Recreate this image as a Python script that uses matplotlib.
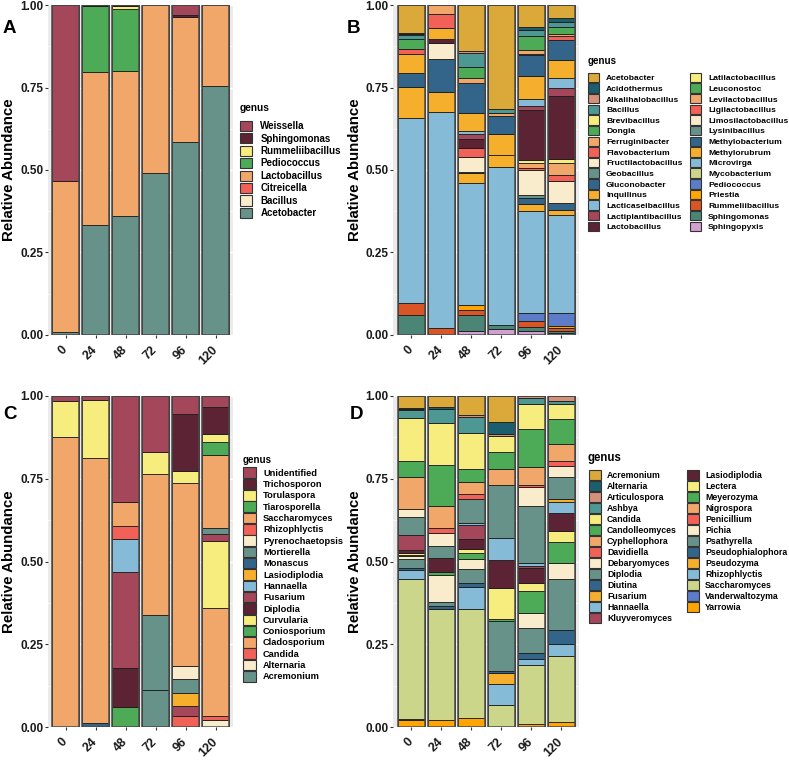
import numpy as np
import matplotlib
matplotlib.use("Agg")
import matplotlib.pyplot as plt
import matplotlib.transforms as mtransforms
from matplotlib.patches import Patch

# output size in pixels (dpi 100)
W, H = 789, 762
FONT = "Liberation Sans"
plt.rcParams["font.family"] = [FONT, "DejaVu Sans"]

hours = ["0", "24", "48", "72", "96", "120"]

# palette used across the four panels
gold, dteal, salmon, teal = "#DBA83A", "#1B5E6E", "#D4917A", "#4D9892"
yellow, green, peach, coral = "#F6ED7E", "#4DAA57", "#F1A66A", "#F26157"
cream, gteal, blue, amber = "#F9ECCC", "#679289", "#33658A", "#F6AE2D"
lblue, rose, maroon, olive = "#86BBD8", "#A4475A", "#5B2333", "#CBD68A"
peri, orange, rust, sgreen, lilac = "#5C7BC8", "#FFA400", "#D95525", "#4B8575", "#D19FD0"

# ---- panel A : bacteria (legend order = stack order, top to bottom)
genus_a = ["Weissella", "Sphingomonas", "Rummeliibacillus", "Pediococcus",
           "Lactobacillus", "Citreicella", "Bacillus", "Acetobacter"]
colors_a = [rose, maroon, yellow, green, peach, coral, cream, gteal]
abund_a = [
    [0.533, 0, 0, 0, 0.031, 0],
    [0, 0.004, 0.004, 0, 0.004, 0],
    [0, 0, 0.007, 0, 0, 0],
    [0, 0.200, 0.189, 0, 0, 0],
    [0.457, 0.463, 0.438, 0.510, 0.380, 0.245],
    [0, 0, 0, 0, 0, 0],
    [0, 0, 0, 0, 0, 0],
    [0.010, 0.333, 0.362, 0.490, 0.585, 0.755],
]

# ---- panel B : bacteria, all genera
genus_b = ["Acetobacter", "Acidothermus", "Alkalihalobacillus", "Bacillus",
           "Brevibacillus", "Dongia", "Ferruginibacter", "Flavobacterium",
           "Fructilactobacillus", "Geobacillus", "Gluconobacter", "Inquilinus",
           "Lacticaseibacillus", "Lactiplantibacillus", "Lactobacillus",
           "Latilactobacillus", "Leuconostoc", "Levilactobacillus",
           "Ligilactobacillus", "Limosilactobacillus", "Lysinibacillus",
           "Methylobacterium", "Methylorubrum", "Microvirga", "Mycobacterium",
           "Pediococcus", "Priestia", "Rummeliibacillus", "Sphingomonas",
           "Sphingopyxis"]
colors_b = [gold, dteal, salmon, teal, yellow, green, peach, coral, cream, gteal,
            blue, amber, lblue, rose, maroon, yellow, green, peach, coral, cream,
            gteal, blue, amber, lblue, olive, peri, orange, rust, sgreen, lilac]
abund_b = [
    [0.086, 0, 0.138, 0.316, 0.066, 0.040],
    [0.003, 0, 0, 0, 0.010, 0.010],
    [0.003, 0, 0.008, 0, 0, 0],
    [0.010, 0, 0.043, 0.012, 0.018, 0.017],
    [0, 0, 0, 0, 0, 0],
    [0.032, 0, 0.033, 0, 0.042, 0.020],
    [0, 0.027, 0.015, 0.009, 0.012, 0.008],
    [0.013, 0.043, 0, 0, 0, 0.010],
    [0, 0, 0, 0, 0, 0],
    [0, 0, 0, 0, 0.004, 0],
    [0, 0, 0.091, 0.054, 0.063, 0.061],
    [0.060, 0.033, 0.053, 0.064, 0.071, 0.054],
    [0, 0, 0.010, 0, 0.020, 0.030],
    [0, 0, 0.016, 0, 0.012, 0.024],
    [0, 0.012, 0.027, 0, 0.152, 0.193],
    [0, 0, 0, 0, 0.010, 0.012],
    [0, 0, 0, 0, 0, 0],
    [0, 0, 0, 0, 0.015, 0.035],
    [0, 0, 0.028, 0, 0.005, 0.019],
    [0, 0.048, 0.043, 0, 0.076, 0.067],
    [0, 0, 0, 0, 0.010, 0],
    [0.041, 0.101, 0.005, 0, 0.018, 0.022],
    [0.095, 0.059, 0.028, 0.037, 0.019, 0.013],
    [0.559, 0.657, 0.371, 0.478, 0.311, 0.296],
    [0, 0, 0, 0, 0, 0],
    [0, 0, 0, 0, 0.023, 0.041],
    [0, 0, 0.015, 0, 0, 0.007],
    [0.037, 0.020, 0.015, 0, 0.018, 0.007],
    [0.059, 0, 0.049, 0.012, 0.013, 0.008],
    [0, 0, 0.012, 0.018, 0.012, 0.005],
]

# ---- panel C : fungi (top genera)
genus_c = ["Unidentified", "Trichosporon", "Torulaspora", "Tiarosporella",
           "Saccharomyces", "Rhizophlyctis", "Pyrenochaetopsis", "Mortierella",
           "Monascus", "Lasiodiplodia", "Hannaella", "Fusarium", "Diplodia",
           "Curvularia", "Coniosporium", "Cladosporium", "Candida", "Alternaria",
           "Acremonium"]
colors_c = [rose, maroon, yellow, green, peach, coral, cream, gteal, blue, amber,
            lblue, rose, maroon, yellow, green, peach, coral, cream, gteal]
abund_c = [
    [0.015, 0.012, 0.319, 0.170, 0.055, 0.032],
    [0, 0, 0, 0, 0.171, 0.082],
    [0.110, 0.176, 0, 0.067, 0.038, 0.025],
    [0, 0, 0, 0, 0, 0.040],
    [0.875, 0.799, 0.073, 0.425, 0.552, 0.219],
    [0, 0, 0.041, 0, 0, 0],
    [0, 0, 0, 0, 0.040, 0],
    [0, 0, 0, 0.226, 0.040, 0.018],
    [0, 0.013, 0, 0, 0, 0],
    [0, 0, 0, 0, 0.041, 0],
    [0, 0, 0.100, 0, 0, 0],
    [0, 0, 0.290, 0, 0.029, 0.022],
    [0, 0, 0.116, 0, 0, 0],
    [0, 0, 0, 0, 0, 0.201],
    [0, 0, 0.061, 0, 0, 0],
    [0, 0, 0, 0, 0, 0.326],
    [0, 0, 0, 0, 0.034, 0.012],
    [0, 0, 0, 0, 0, 0.021],
    [0, 0, 0, 0.112, 0, 0],
]

# ---- panel D : fungi, all genera
genus_d = ["Acremonium", "Alternaria", "Articulospora", "Ashbya", "Candida",
           "Candolleomyces", "Cyphellophora", "Davidiella", "Debaryomyces",
           "Diplodia", "Diutina", "Fusarium", "Hannaella", "Kluyveromyces",
           "Lasiodiplodia", "Lectera", "Meyerozyma", "Nigrospora", "Penicillium",
           "Pichia", "Psathyrella", "Pseudophialophora", "Pseudozyma",
           "Rhizophlyctis", "Saccharomyces", "Vanderwaltozyma", "Yarrowia"]
colors_d = [gold, dteal, salmon, teal, yellow, green, peach, coral, cream, gteal,
            blue, amber, lblue, rose, maroon, yellow, green, peach, coral, cream,
            gteal, blue, amber, lblue, olive, peri, orange]
abund_d = [
    [0.036, 0.034, 0.057, 0.080, 0, 0],
    [0.003, 0.005, 0, 0.034, 0, 0],
    [0.004, 0, 0.007, 0.008, 0.005, 0.015],
    [0.022, 0.044, 0.049, 0, 0.019, 0.008],
    [0.130, 0.124, 0.109, 0.048, 0.076, 0.048],
    [0.051, 0.124, 0.039, 0.051, 0.113, 0.074],
    [0.095, 0.068, 0.034, 0.049, 0.055, 0.053],
    [0, 0.015, 0.016, 0, 0.006, 0.015],
    [0.025, 0.039, 0, 0, 0.056, 0.031],
    [0.053, 0.036, 0.072, 0.159, 0.172, 0.068],
    [0, 0, 0, 0, 0, 0],
    [0, 0, 0, 0, 0, 0.008],
    [0, 0, 0.008, 0.066, 0.010, 0.034],
    [0.047, 0, 0.042, 0, 0.006, 0],
    [0.009, 0.044, 0.028, 0.085, 0.045, 0.053],
    [0.005, 0, 0.013, 0.095, 0.023, 0.034],
    [0.003, 0.009, 0.018, 0.004, 0.066, 0.063],
    [0, 0, 0, 0, 0, 0],
    [0, 0, 0, 0, 0, 0],
    [0.010, 0.079, 0.031, 0, 0.046, 0.048],
    [0.026, 0.013, 0.042, 0.152, 0.076, 0.156],
    [0.008, 0.010, 0.011, 0.006, 0.018, 0.041],
    [0, 0, 0, 0.034, 0, 0],
    [0.027, 0, 0.067, 0.063, 0.017, 0.038],
    [0.421, 0.335, 0.331, 0.067, 0.178, 0.198],
    [0.005, 0, 0, 0, 0, 0],
    [0.020, 0.021, 0.026, 0, 0.008, 0.016],
]

fig = plt.figure(figsize=(W / 100, H / 100), dpi=100)


def px_axes(left, top, width, height):
    return fig.add_axes([left / W, 1 - (top + height) / H, width / W, height / H])


def draw_panel(ax, genera, colours, values):
    vals = np.array(values, dtype=float)
    vals = vals / vals.sum(axis=0)          # relative abundance per sample
    x = np.arange(len(hours))
    bottom = np.zeros(len(hours))
    # the last genus in the legend sits at the bottom of each bar
    for col, row in reversed(list(zip(colours, vals))):
        keep = row > 0
        ax.bar(x[keep], row[keep], bottom=bottom[keep], width=0.9, color=col,
               edgecolor="#1a1a1a", linewidth=0.6, zorder=3)
        bottom += row
    # grey frame round each whole bar
    ax.bar(x, bottom, width=0.9, fill=False, edgecolor="#4a4a4a",
           linewidth=1.1, zorder=4)

    ax.set_facecolor("#EBEBEB")
    for s in ax.spines.values():
        s.set_visible(False)
    ax.set_xlim(-0.6, len(hours) - 0.4)
    ax.set_ylim(0, 1)
    ax.set_yticks([0, 0.25, 0.5, 0.75, 1.0])
    ax.set_yticks([0.125, 0.375, 0.625, 0.875], minor=True)
    ax.set_yticklabels(["0.00", "0.25", "0.50", "0.75", "1.00"],
                       fontsize=8.5, fontweight="bold", color="#1a1a1a")
    ax.set_xticks(x)
    ax.set_xticklabels(hours, fontsize=9, fontweight="bold", color="#1a1a1a",
                       rotation=45, ha="right", va="center", rotation_mode="anchor")
    shift = mtransforms.ScaledTranslation(2.5 / 72, 0, fig.dpi_scale_trans)
    for lab in ax.get_xticklabels():
        lab.set_transform(lab.get_transform() + shift)
    ax.tick_params(axis="y", which="major", length=2, width=0.8, color="#333333", pad=1)
    ax.tick_params(axis="y", which="minor", length=0)
    ax.tick_params(axis="x", length=2, width=0.8, color="#333333", pad=7.4)
    ax.grid(True, which="major", color="white", linewidth=1.0, zorder=0)
    ax.grid(True, which="minor", axis="y", color="white", linewidth=0.5, zorder=0)
    ax.set_axisbelow(True)
    ax.set_ylabel("Relative Abundance", fontsize=10.8, fontweight="bold")
    ax.yaxis.set_label_coords(-0.168, 0.5)


def legend_col(names, colours, x, y, fs, kw, kh, pitch, pad):
    fpx = fs * 100 / 72
    handles = [Patch(facecolor=c, edgecolor="#333333", linewidth=0.8) for c in colours]
    fig.legend(handles, names, loc="upper left", bbox_to_anchor=(x / W, 1 - y / H),
               frameon=False, borderpad=0, borderaxespad=0,
               handlelength=kw / fpx, handleheight=kh / fpx,
               handletextpad=pad / fpx, labelspacing=(pitch - kh) / fpx,
               prop={"family": FONT, "weight": "bold", "size": fs})


def legend_title(x, y, size):
    fig.text(x / W, 1 - y / H, "genus", ha="left", va="center",
             fontsize=size, fontweight="bold")


def panel_letter(x, y, letter):
    fig.text(x / W, 1 - y / H, letter, ha="left", va="center",
             fontsize=13.5, fontweight="bold")


ax_a = px_axes(47.5, 5, 186, 330)
ax_b = px_axes(393, 5, 186, 330)
ax_c = px_axes(47.5, 396, 186, 331)
ax_d = px_axes(393, 396, 186, 331)

draw_panel(ax_a, genus_a, colors_a, abund_a)
draw_panel(ax_b, genus_b, colors_b, abund_b)
draw_panel(ax_c, genus_c, colors_c, abund_c)
draw_panel(ax_d, genus_d, colors_d, abund_d)

# legends
legend_title(240, 108, 7.3)
legend_col(genus_a, colors_a, 240, 120.7, 7.0, 12.3, 12.0, 14.1, 8)

legend_title(588, 61, 7.0)
legend_col(genus_b[:15], colors_b[:15], 588, 72.7, 6.1, 11, 11.3, 12.4, 7)
legend_col(genus_b[15:], colors_b[15:], 690, 72.7, 6.1, 11, 11.3, 12.4, 7)

legend_title(243, 460, 7.0)
legend_col(genus_c, colors_c, 243, 467.5, 6.7, 13, 12.6, 13.44, 7)

legend_title(588, 458, 8.3)
legend_col(genus_d[:14], colors_d[:14], 589, 470, 6.3, 12, 11.7, 12.9, 6)
legend_col(genus_d[14:], colors_d[14:], 687, 470, 6.3, 12, 11.7, 12.9, 6)

panel_letter(3, 28.5, "A")
panel_letter(347, 28.5, "B")
panel_letter(3, 415, "C")
panel_letter(350, 415, "D")

fig.savefig("out.png", dpi=100)
